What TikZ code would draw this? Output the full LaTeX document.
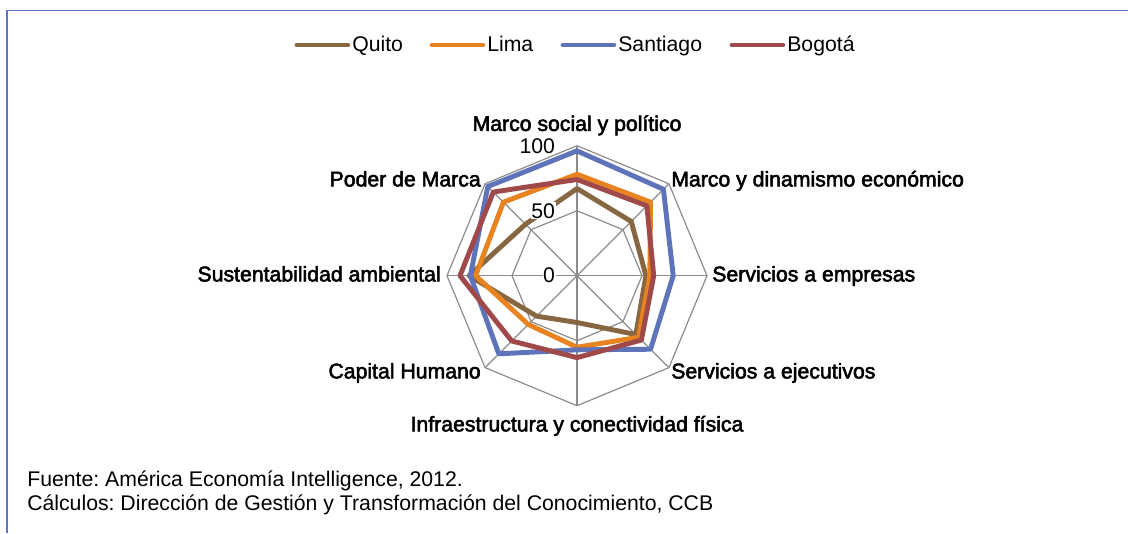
\documentclass[tikz,border=0pt]{standalone}
\usepackage{fontspec}
\usepackage{tikz}
\setmainfont{Liberation Sans}
\newfontfamily\axisfont[FakeBold=2.5]{Liberation Sans}
\frenchspacing

\definecolor{quito}{HTML}{876642}
\definecolor{lima}{HTML}{E8831F}
\definecolor{santiago}{HTML}{5E73B9}
\definecolor{bogota}{HTML}{A0494B}
\definecolor{gridgray}{HTML}{8C8C8C}
\definecolor{frameblue}{HTML}{5B76C4}

\begin{document}
\begin{tikzpicture}[x=0.025cm, y=0.025cm,
                    every node/.style={font=\fontsize{15.1}{17}\selectfont,
                                       inner sep=0pt, text height=10.8pt, text depth=3.1pt},
                    axislabel/.style={font=\fontsize{15.1}{17}\selectfont\axisfont},
                    ringlabel/.style={fill=white, inner sep=0.5pt, text depth=0pt, anchor=east},
                    gridline/.style={draw=gridgray, line width=0.85pt},
                    serie/.style={line width=3.5pt, line join=round},
                    legline/.style={line width=3.5pt, line cap=round}]

                      \useasboundingbox (0,0) rectangle (1128,533);
                      \draw[frameblue, line width=1.2pt] (7,0) -- (7,522.5) -- (1128,522.5);

                      \coordinate (c) at (577,257.3);

                      \foreach \k in {0,...,7} {
                              \path (c) ++({90-45*\k}:130) coordinate (a\k);
                              \path (c) ++({90-45*\k}:65) coordinate (b\k);
                          }

                      \draw[gridline] (a0) -- (a1) -- (a2) -- (a3) -- (a4) -- (a5) -- (a6) -- (a7) -- cycle;
                      \draw[gridline] (b0) -- (b1) -- (b2) -- (b3) -- (b4) -- (b5) -- (b6) -- (b7) -- cycle;
                      \foreach \k in {0,...,7} {
                              \draw[gridline] (c) -- (a\k);
                          }

                      \begin{scope}[shift={(c)}, scale=1.3]
                      \foreach \col/\vals in {quito/{67,59,53,64,36,44,83,56},
                                              lima/{78,80,56,67,55,53,78,80},
                                              santiago/{96,94,74,80,57,85,82,97},
                                              bogota/{74,76,59,70,63,71,90,91}} {
                              \foreach \v [count=\k from 0] in \vals {
                                      \coordinate (\col\k) at ({90-45*\k}:\v);
                                  }
                              \draw[serie, \col] (\col0) -- (\col1) -- (\col2) -- (\col3)
                                  -- (\col4) -- (\col5) -- (\col6) -- (\col7) -- cycle;
                          }
                      \end{scope}

                      \node[ringlabel] (r100) at (556,387) {100};
                      \node[ringlabel] (r50) at (556,322.5) {50};
                      \node[ringlabel] (r0) at (556,258.5) {0};

                      \node[axislabel] (ms) at (577,407.5) {Marco social y político};
                      \node[axislabel, anchor=west] (md) at (671,352) {Marco y dinamismo económico};
                      \node[axislabel, anchor=west] (se) at (712,257) {Servicios a empresas};
                      \node[axislabel, anchor=west] (sj) at (671,160) {Servicios a ejecutivos};
                      \node[axislabel] (in) at (577,107) {Infraestructura y conectividad física};
                      \node[axislabel, anchor=east] (ch) at (481,160) {Capital Humano};
                      \node[axislabel, anchor=east] (sa) at (441,257) {Sustentabilidad ambiental};
                      \node[axislabel, anchor=east] (pm) at (481,352) {Poder de Marca};

                      % legend
                      \foreach \col/\txt/\x in {quito/Quito/297, lima/Lima/432,
                                                santiago/Santiago/563, bogota/Bogotá/732} {
                              \coordinate (l\col) at (\x,488);
                              \node[anchor=west] (t\col) at (\x+55,487) {\txt};
                              \draw[legline, \col] (l\col) -- ([xshift=-3pt]t\col.west |- l\col);
                          }

                      \node[anchor=west] (fuente) at (27,52) {Fuente: América Economía Intelligence, 2012.};
                      \node[anchor=west] (calc) at (27,28) {Cálculos: Dirección de Gestión y Transformación del Conocimiento, CCB};
                  \end{tikzpicture}
\end{document}
